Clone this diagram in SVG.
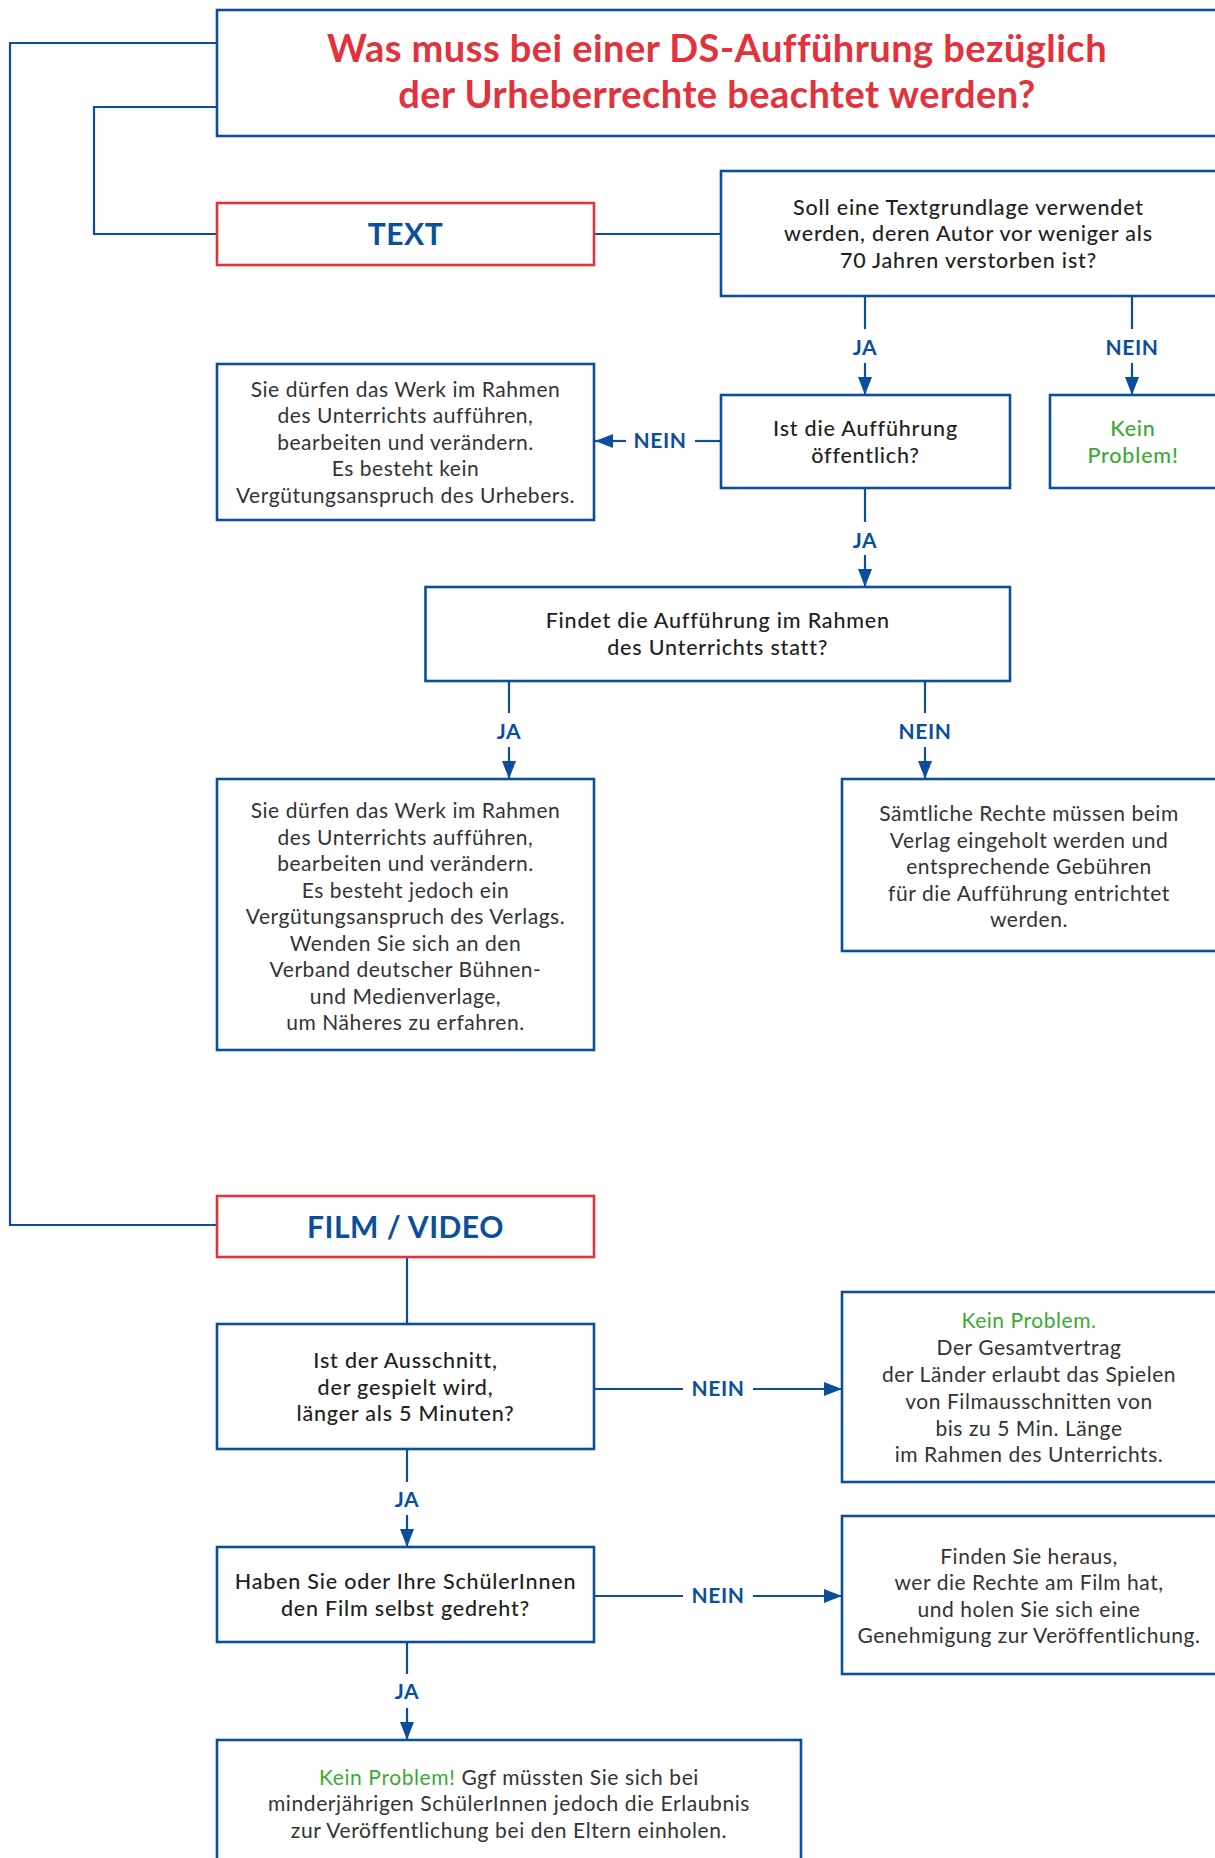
<svg xmlns="http://www.w3.org/2000/svg" width="1215" height="1858" viewBox="0 0 1215 1858">
<defs>
<style>
.box{fill:#fff;stroke:#0b4f9c;stroke-width:2.6}
.cat{fill:#fff;stroke:#e2323b;stroke-width:2.6}
.ln{fill:none;stroke:#0b4f9c;stroke-width:2.2}
.title{font-family:Lato,"Liberation Sans",sans-serif;font-weight:700;font-size:38px;letter-spacing:0.45px;fill:#e2323b;text-anchor:middle}
.cattx{font-family:Lato,"Liberation Sans",sans-serif;font-weight:700;font-size:30px;letter-spacing:0.5px;fill:#0b4f9c;text-anchor:middle}
.q{font-family:Lato,"Liberation Sans",sans-serif;font-weight:500;font-size:21.5px;letter-spacing:0.8px;fill:#231f20;text-anchor:middle}
.a{font-family:Lato,"Liberation Sans",sans-serif;font-weight:400;font-size:21px;letter-spacing:0.55px;fill:#333;text-anchor:middle}
.lbl{font-family:Lato,"Liberation Sans",sans-serif;font-weight:700;font-size:21px;letter-spacing:0.6px;fill:#0b4f9c;text-anchor:middle}
.ok{fill:#3ba935}
</style>
<marker id="arr" markerUnits="userSpaceOnUse" markerWidth="18" markerHeight="14" refX="18" refY="7" orient="auto">
<path d="M0,0 L18,7 L0,14 Z" fill="#0b4f9c"/>
</marker>
</defs>

<g id="connectors">
<polyline class="ln" points="217,43 10,43 10,1225 217,1225"/>
<polyline class="ln" points="217,107 94,107 94,234 217,234"/>
<line class="ln" x1="594" y1="234" x2="721" y2="234"/>
<line class="ln" x1="865" y1="296" x2="865" y2="329"/>
<line class="ln" x1="865" y1="363" x2="865" y2="395" marker-end="url(#arr)"/>
<line class="ln" x1="1132" y1="296" x2="1132" y2="329"/>
<line class="ln" x1="1132" y1="363" x2="1132" y2="395" marker-end="url(#arr)"/>
<line class="ln" x1="721" y1="441" x2="695" y2="441"/>
<line class="ln" x1="626" y1="441" x2="595" y2="441" marker-end="url(#arr)"/>
<line class="ln" x1="865" y1="488" x2="865" y2="522"/>
<line class="ln" x1="865" y1="555" x2="865" y2="587" marker-end="url(#arr)"/>
<line class="ln" x1="509" y1="681" x2="509" y2="713"/>
<line class="ln" x1="509" y1="747" x2="509" y2="779" marker-end="url(#arr)"/>
<line class="ln" x1="925" y1="681" x2="925" y2="713"/>
<line class="ln" x1="925" y1="747" x2="925" y2="779" marker-end="url(#arr)"/>
<line class="ln" x1="407" y1="1257" x2="407" y2="1324"/>
<line class="ln" x1="594" y1="1389" x2="683" y2="1389"/>
<line class="ln" x1="753" y1="1389" x2="842" y2="1389" marker-end="url(#arr)"/>
<line class="ln" x1="407" y1="1449" x2="407" y2="1482"/>
<line class="ln" x1="407" y1="1515" x2="407" y2="1547" marker-end="url(#arr)"/>
<line class="ln" x1="594" y1="1596" x2="683" y2="1596"/>
<line class="ln" x1="753" y1="1596" x2="842" y2="1596" marker-end="url(#arr)"/>
<line class="ln" x1="407" y1="1642" x2="407" y2="1674"/>
<line class="ln" x1="407" y1="1708" x2="407" y2="1740" marker-end="url(#arr)"/>
<text class="lbl" x="865" y="355">JA</text>
<text class="lbl" x="1132" y="355">NEIN</text>
<text class="lbl" x="660" y="448">NEIN</text>
<text class="lbl" x="865" y="548">JA</text>
<text class="lbl" x="509" y="739">JA</text>
<text class="lbl" x="925" y="739">NEIN</text>
<text class="lbl" x="718" y="1396">NEIN</text>
<text class="lbl" x="407" y="1507">JA</text>
<text class="lbl" x="718" y="1603">NEIN</text>
<text class="lbl" x="407" y="1699">JA</text>
</g>

<g id="title">
<rect class="box" x="217" y="10" width="1010" height="126"/>
<text class="title" x="717" y="62">Was muss bei einer DS-Aufführung bezüglich</text>
<text class="title" x="717" y="108">der Urheberrechte beachtet werden?</text>
</g>

<g id="text-cat">
<rect class="cat" x="217" y="203" width="377" height="62"/>
<text class="cattx" x="405.5" y="244.5">TEXT</text>
</g>

<g id="q1">
<rect class="box" x="721" y="171" width="510" height="125"/>
<text class="q" x="968.5" y="215">Soll eine Textgrundlage verwendet</text>
<text class="q" x="968.5" y="241">werden, deren Autor vor weniger als</text>
<text class="q" x="968.5" y="268">70 Jahren verstorben ist?</text>
</g>

<g id="kein1">
<rect class="box" x="1050" y="395" width="180" height="93"/>
<text class="q ok" x="1133" y="436">Kein</text>
<text class="q ok" x="1133" y="463">Problem!</text>
</g>

<g id="q2">
<rect class="box" x="721" y="395" width="289" height="93"/>
<text class="q" x="865.5" y="436">Ist die Aufführung</text>
<text class="q" x="865.5" y="463">öffentlich?</text>
</g>

<g id="a1">
<rect class="box" x="217" y="364" width="377" height="156"/>
<text class="a" x="405.5" y="396.5">Sie dürfen das Werk im Rahmen</text>
<text class="a" x="405.5" y="423">des Unterrichts aufführen,</text>
<text class="a" x="405.5" y="449.5">bearbeiten und verändern.</text>
<text class="a" x="405.5" y="476">Es besteht kein</text>
<text class="a" x="405.5" y="502.5">Vergütungsanspruch des Urhebers.</text>
</g>

<g id="q3">
<rect class="box" x="425.5" y="587" width="584.5" height="94"/>
<text class="q" x="717.75" y="628">Findet die Aufführung im Rahmen</text>
<text class="q" x="717.75" y="655">des Unterrichts statt?</text>
</g>

<g id="a2">
<rect class="box" x="217" y="779" width="377" height="271"/>
<text class="a" x="405.5" y="818">Sie dürfen das Werk im Rahmen</text>
<text class="a" x="405.5" y="844.5">des Unterrichts aufführen,</text>
<text class="a" x="405.5" y="871">bearbeiten und verändern.</text>
<text class="a" x="405.5" y="897.5">Es besteht jedoch ein</text>
<text class="a" x="405.5" y="924">Vergütungsanspruch des Verlags.</text>
<text class="a" x="405.5" y="950.5">Wenden Sie sich an den</text>
<text class="a" x="405.5" y="977">Verband deutscher Bühnen-</text>
<text class="a" x="405.5" y="1003.5">und Medienverlage,</text>
<text class="a" x="405.5" y="1030">um Näheres zu erfahren.</text>
</g>

<g id="a3">
<rect class="box" x="842" y="779" width="390" height="172"/>
<text class="a" x="1029" y="821">Sämtliche Rechte müssen beim</text>
<text class="a" x="1029" y="847.5">Verlag eingeholt werden und</text>
<text class="a" x="1029" y="874">entsprechende Gebühren</text>
<text class="a" x="1029" y="900.5">für die Aufführung entrichtet</text>
<text class="a" x="1029" y="927">werden.</text>
</g>

<g id="film-cat">
<rect class="cat" x="217" y="1196" width="377" height="61"/>
<text class="cattx" x="405.5" y="1237.5">FILM / VIDEO</text>
</g>

<g id="q4">
<rect class="box" x="217" y="1324" width="377" height="125"/>
<text class="q" x="405.5" y="1368">Ist der Ausschnitt,</text>
<text class="q" x="405.5" y="1395">der gespielt wird,</text>
<text class="q" x="405.5" y="1421">länger als 5 Minuten?</text>
</g>

<g id="a4">
<rect class="box" x="842" y="1292" width="390" height="190"/>
<text class="a ok" x="1029" y="1328">Kein Problem.</text>
<text class="a" x="1029" y="1355">Der Gesamtvertrag</text>
<text class="a" x="1029" y="1382">der Länder erlaubt das Spielen</text>
<text class="a" x="1029" y="1409">von Filmausschnitten von</text>
<text class="a" x="1029" y="1436">bis zu 5 Min. Länge</text>
<text class="a" x="1029" y="1462">im Rahmen des Unterrichts.</text>
</g>

<g id="q5">
<rect class="box" x="217" y="1547" width="377" height="95"/>
<text class="q" x="405.5" y="1589">Haben Sie oder Ihre SchülerInnen</text>
<text class="q" x="405.5" y="1616">den Film selbst gedreht?</text>
</g>

<g id="a5">
<rect class="box" x="842" y="1516" width="390" height="158"/>
<text class="a" x="1029" y="1564">Finden Sie heraus,</text>
<text class="a" x="1029" y="1590">wer die Rechte am Film hat,</text>
<text class="a" x="1029" y="1617">und holen Sie sich eine</text>
<text class="a" x="1029" y="1643">Genehmigung zur Veröffentlichung.</text>
</g>

<g id="final">
<rect class="box" x="217" y="1740" width="584" height="140"/>
<text class="a" x="509" y="1785" style="letter-spacing:0.6px"><tspan class="ok">Kein Problem!</tspan> Ggf müssten Sie sich bei</text>
<text class="a" x="509" y="1811" style="letter-spacing:0.6px">minderjährigen SchülerInnen jedoch die Erlaubnis</text>
<text class="a" x="509" y="1838" style="letter-spacing:0.6px">zur Veröffentlichung bei den Eltern einholen.</text>
</g>
</svg>
